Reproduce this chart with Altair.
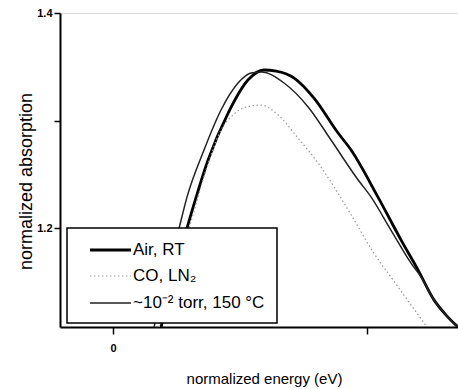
import altair as alt
import pandas as pd

# --- data (normalized energy, normalized absorption) ---
air_x = [0.189, 0.236, 0.291, 0.327, 0.374, 0.453, 0.531, 0.594, 0.642, 0.713,
         0.791, 0.886, 0.937, 1.043, 1.134, 1.201, 1.264, 1.311, 1.358]
air_y = [1.108, 1.1516, 1.200, 1.2288, 1.2633, 1.3070, 1.3377, 1.3470, 1.3460, 1.3395,
         1.3209, 1.2884, 1.2726, 1.2288, 1.1888, 1.1609, 1.1330, 1.1191, 1.108]

vac_x = [0.161, 0.209, 0.260, 0.291, 0.358, 0.425, 0.492, 0.543, 0.583, 0.673,
         0.768, 0.858, 0.965, 1.016, 1.094, 1.173, 1.213, 1.264, 1.311, 1.358]
vac_y = [1.108, 1.1516, 1.200, 1.2288, 1.2726, 1.3098, 1.3349, 1.3442, 1.3451, 1.3349,
         1.3126, 1.2819, 1.2447, 1.2288, 1.1981, 1.1674, 1.1544, 1.1330, 1.1191, 1.108]

co_x = [0.181, 0.236, 0.299, 0.366, 0.425, 0.472, 0.524, 0.583, 0.650, 0.728,
        0.807, 0.933, 1.024, 1.114, 1.193, 1.236]
co_y = [1.108, 1.1563, 1.200, 1.2540, 1.2912, 1.3051, 1.3126, 1.3144, 1.3051, 1.2837,
        1.2605, 1.2140, 1.1777, 1.1479, 1.1219, 1.108]

series_names = ["Air, RT", "CO, LN\u2082", "~10\u207b\u00b2 torr, 150 \u00b0C"]
x_ticks = [0, 1]
y_ticks = [1.2, 1.3, 1.4]

FONT = "Liberation Sans"

rows = []
for name, xs, ys in zip(series_names, [air_x, co_x, vac_x], [air_y, co_y, vac_y]):
    for a, b in zip(xs, ys):
        rows.append({"series": name, "energy": a, "absorption": b})
df = pd.DataFrame(rows)

xenc = alt.X(
    "energy:Q",
    scale=alt.Scale(domain=[-0.209, 1.358], nice=False, zero=False),
    axis=alt.Axis(
        values=x_ticks,
        labelExpr="datum.value == 0 ? '0' : ''",
        title="normalized energy (eV)",
        grid=False,
        domainColor="black", domainWidth=2,
        tickColor="black", tickWidth=1.5, tickSize=7,
        labelFont=FONT, labelFontSize=11, labelFontWeight="bold", labelColor="black",
        labelPadding=8,
        titleFont=FONT, titleFontSize=15, titleFontWeight="normal", titleColor="black",
        titleX=204, titleY=56, titleBaseline="alphabetic", titleAlign="center",
    ),
)
yenc = alt.Y(
    "absorption:Q",
    scale=alt.Scale(domain=[1.108, 1.4], nice=False, zero=False),
    axis=alt.Axis(
        values=y_ticks,
        labelExpr="datum.value == 1.3 ? '' : format(datum.value, '.1f')",
        title="normalized absorption",
        grid=False,
        domainColor="black", domainWidth=2,
        tickColor="black", tickWidth=1.5, tickSize=6,
        labelFont=FONT, labelFontSize=11, labelFontWeight="bold", labelColor="black",
        labelPadding=2,
        titleFont=FONT, titleFontSize=18, titleFontWeight="normal", titleColor="black",
        titleX=-29, titleY=168, titleBaseline="alphabetic", titleAlign="center",
        titleAngle=270,
    ),
)

base = alt.Chart(df).encode(x=xenc, y=yenc)

air = base.transform_filter(alt.datum.series == series_names[0]).mark_line(
    color="black", strokeWidth=2.8, interpolate="monotone", clip=True)
co = base.transform_filter(alt.datum.series == series_names[1]).mark_line(
    color="#9a9a9a", strokeWidth=1.2, strokeDash=[1.5, 2.5], interpolate="monotone", clip=True)
vac = base.transform_filter(alt.datum.series == series_names[2]).mark_line(
    color="#222222", strokeWidth=1.5, interpolate="monotone", clip=True)

one = alt.Chart(pd.DataFrame({"k": [0]}))
box = one.mark_rect(fill="white", stroke="black", strokeWidth=1.5).encode(
    x=alt.value(7), x2=alt.value(217), y=alt.value(215), y2=alt.value(310))

leg_y = [237, 263, 290]
leg_layers = [box]
styles = [
    dict(color="black", strokeWidth=2.8),
    dict(color="#9a9a9a", strokeWidth=1.2, strokeDash=[1.5, 2.5]),
    dict(color="#222222", strokeWidth=1.5),
]
for name, yy, st in zip(series_names, leg_y, styles):
    leg_layers.append(one.mark_rule(**st).encode(
        x=alt.value(30), x2=alt.value(71), y=alt.value(yy)))
    leg_layers.append(one.mark_text(
        text=name, align="left", baseline="middle", font=FONT, fontSize=17,
        color="black").encode(x=alt.value(73), y=alt.value(yy)))

chart = alt.layer(air, co, vac, *leg_layers).properties(
    width=398, height=314,
    autosize=alt.AutoSizeParams(type="none"),
    padding={"left": 60, "top": 13, "right": 0, "bottom": 62},
).configure_view(stroke="black", strokeWidth=1.5).configure(background="white")

chart.save("out.html", embed_options={"renderer": "svg", "actions": False})
